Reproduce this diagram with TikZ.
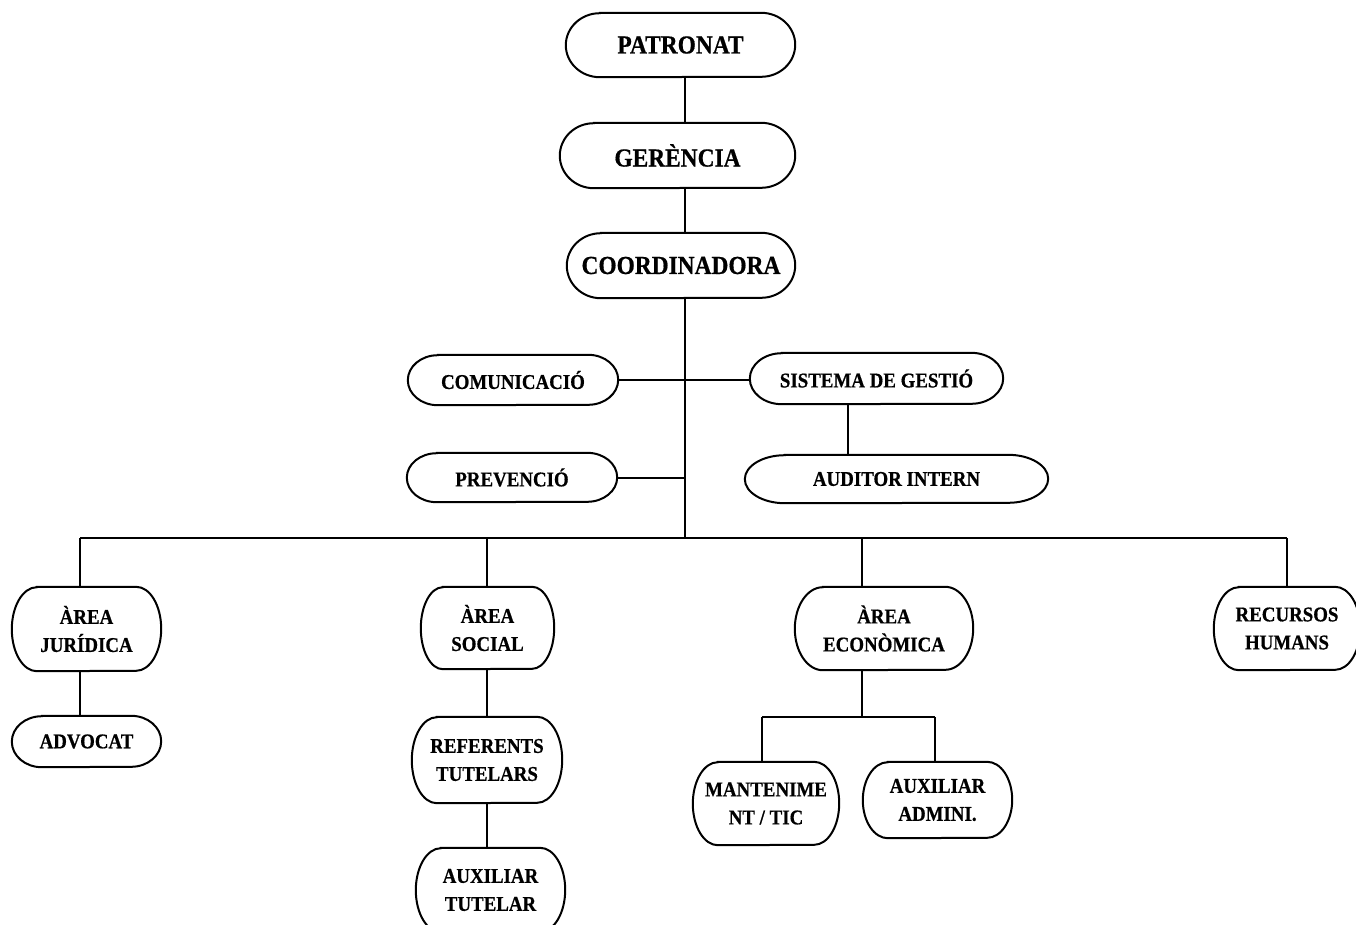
\documentclass[tikz,border=0pt]{standalone}
\usepackage{fontspec}
\setmainfont{Liberation Serif}
\newfontfamily\boxfont[FakeStretch=0.9,FakeBold=0.6]{Liberation Serif}
\begin{document}
\begin{tikzpicture}[x=1pt,y=1pt,
  boxline/.style={line width=2pt},
  link/.style={line width=2pt},
  bigtxt/.style={font=\boxfont\fontsize{26}{30}\bfseries\selectfont, align=center},
  smalltxt/.style={font=\boxfont\fontsize{21}{28}\bfseries\selectfont, align=center}]
\newcommand\tbox[8]{%
  \node[#7, minimum width=#4pt, minimum height=#5pt, inner sep=0pt] (#1) at (#2,-#3) {#8};
  \draw[boxline] ([xshift=#6pt]#1.north west) -- ([xshift=-#6pt]#1.north east)
     arc[start angle=90, end angle=-90, x radius=#6pt, y radius=#5pt/2]
     -- ([xshift=#6pt]#1.south west)
     arc[start angle=270, end angle=90, x radius=#6pt, y radius=#5pt/2] -- cycle;
}
\clip (0,0) rectangle (1356,-924);
\fill[white] (0,0) rectangle (1356,-924);
% nodes
\tbox{pat}{680.5}{45}{229}{64}{34}{bigtxt}{PATRONAT}
\tbox{ger}{677.5}{155.5}{235}{65}{34}{bigtxt}{GERÈNCIA}
\tbox{coo}{681}{265.5}{228}{65}{34}{bigtxt}{COORDINADORA}
\tbox{com}{513}{380}{210}{50}{30}{smalltxt}{COMUNICACIÓ}
\tbox{sg}{876.5}{378.5}{253}{51}{32}{smalltxt}{SISTEMA DE GESTIÓ}
\tbox{prev}{512}{477.5}{210}{49}{30}{smalltxt}{PREVENCIÓ}
\tbox{aud}{896.5}{479}{303}{48}{40}{smalltxt}{AUDITOR INTERN}
\tbox{jur}{86.5}{629}{149}{84}{25}{smalltxt}{ÀREA\\JURÍDICA}
\tbox{adv}{86.5}{741.5}{149}{51}{30}{smalltxt}{ADVOCAT}
\tbox{soc}{487.5}{628}{133}{82}{22}{smalltxt}{ÀREA\\SOCIAL}
\tbox{ref}{487}{760}{150}{86}{25}{smalltxt}{REFERENTS\\TUTELARS}
\tbox{auxt}{490.5}{890}{149}{84}{25}{smalltxt}{AUXILIAR\\TUTELAR}
\tbox{eco}{884}{628.5}{178}{83}{28}{smalltxt}{ÀREA\\ECONÒMICA}
\tbox{man}{766}{803.5}{146}{83}{25}{smalltxt}{MANTENIME\\NT / TIC}
\tbox{adm}{937.5}{800}{149}{76}{25}{smalltxt}{AUXILIAR\\ADMINI.}
\tbox{rec}{1287}{628.5}{146}{83}{25}{smalltxt}{RECURSOS\\HUMANS}
% helper coordinates
\coordinate (tx) at (685,0);
\coordinate (ax) at (848,0);
\coordinate (bus) at (685,-538);
\coordinate (bL) at (80,-538);
\coordinate (bS) at (487,-538);
\coordinate (bE) at (862,-538);
\coordinate (bR) at (1287,-538);
\coordinate (eb) at (862,-717);
\coordinate (m1) at (762,-717);
\coordinate (m2) at (935,-717);
% connectors
\draw[link] (pat.south -| tx) -- (ger.north -| tx);
\draw[link] (ger.south -| tx) -- (coo.north -| tx);
\draw[link] (coo.south -| tx) -- (bus);
\draw[link] (com.east) -- (com.east -| sg.west);
\draw[link] (sg.south -| ax) -- (aud.north -| ax);
\draw[link] (prev.east) -- (prev.east -| tx);
\draw[link] (bL) -- (bR);
\draw[link] (bL) -- (jur.north -| bL);
\draw[link] (jur.south -| bL) -- (adv.north -| bL);
\draw[link] (bS) -- (soc.north -| bS);
\draw[link] (soc.south -| bS) -- (ref.north -| bS);
\draw[link] (ref.south -| bS) -- (auxt.north -| bS);
\draw[link] (bE) -- (eco.north -| bE);
\draw[link] (eco.south -| bE) -- (eb);
\draw[link] (m1) -- (m2);
\draw[link] (m1) -- (man.north -| m1);
\draw[link] (m2) -- (adm.north -| m2);
\draw[link] (bR) -- (rec.north -| bR);
\end{tikzpicture}
\end{document}
